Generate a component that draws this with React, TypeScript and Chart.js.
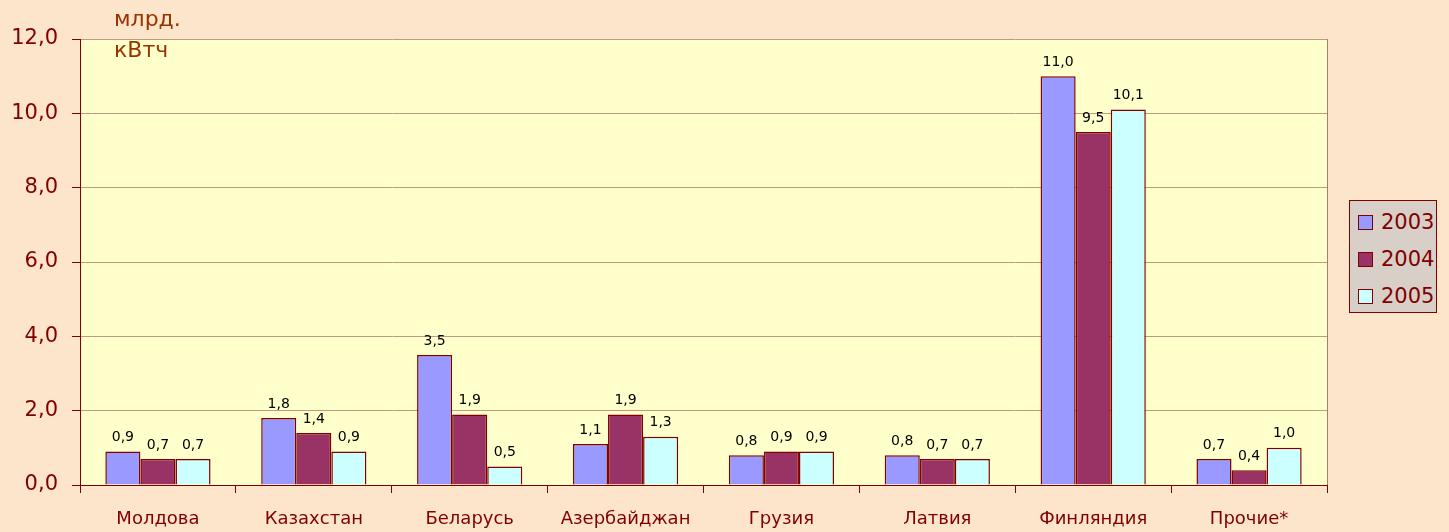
import React, { useEffect, useRef } from "react";
import { Chart, registerables } from "chart.js";

Chart.register(...registerables);

const categories = ["Молдова", "Казахстан", "Беларусь", "Азербайджан", "Грузия", "Латвия", "Финляндия", "Прочие*"];
const values2003 = [0.9, 1.8, 3.5, 1.1, 0.8, 0.8, 11.0, 0.7];
const values2004 = [0.7, 1.4, 1.9, 1.9, 0.9, 0.7, 9.5, 0.4];
const values2005 = [0.7, 0.9, 0.5, 1.3, 0.9, 0.7, 10.1, 1.0];
const seriesLabels = ["2003", "2004", "2005"];
const seriesColors = ["#9999FF", "#993366", "#CCFFFF"];
const unitLines = ["млрд.", "кВтч"];

const FONT = "'DejaVu Sans', Verdana, sans-serif";
const fmt = (v: number) => v.toFixed(1).replace(".", ",");

const plotBg = {
  id: "plotBg",
  beforeDraw(chart: any) {
    const { ctx, chartArea } = chart;
    ctx.save();
    ctx.fillStyle = "#FFFFCC";
    ctx.fillRect(chartArea.left, chartArea.top, chartArea.right - chartArea.left, chartArea.bottom - chartArea.top);
    ctx.restore();
  },
  afterDraw(chart: any) {
    const { ctx, chartArea } = chart;
    ctx.save();
    ctx.strokeStyle = "#A08070";
    ctx.lineWidth = 1;
    ctx.beginPath();
    ctx.moveTo(chartArea.right + 0.5, chartArea.top);
    ctx.lineTo(chartArea.right + 0.5, chartArea.bottom);
    ctx.stroke();
    ctx.restore();
  },
};

const valueLabels = {
  id: "valueLabels",
  afterDatasetsDraw(chart: any) {
    const { ctx } = chart;
    ctx.save();
    ctx.font = `14px ${FONT}`;
    ctx.fillStyle = "#000000";
    ctx.textAlign = "center";
    ctx.textBaseline = "bottom";
    chart.data.datasets.forEach((ds: any, i: number) => {
      const meta = chart.getDatasetMeta(i);
      meta.data.forEach((el: any, j: number) => {
        ctx.fillText(fmt(ds.data[j]), el.x, el.y - 7);
      });
    });
    ctx.restore();
  },
};

export default function App() {
  const ref = useRef<HTMLCanvasElement>(null);

  useEffect(() => {
    document.body.style.margin = "0";
    const datasets = [values2003, values2004, values2005].map((d, i) => ({
      label: seriesLabels[i],
      data: d,
      backgroundColor: seriesColors[i],
      borderColor: "#800000",
      borderWidth: 1.5,
      categoryPercentage: 0.675,
      barPercentage: 1,
    }));
    const chart = new Chart(ref.current!, {
      type: "bar",
      data: { labels: categories, datasets },
      options: {
        animation: false,
        responsive: false,
        maintainAspectRatio: false,
        layout: { padding: { left: 0, right: 122, top: 39, bottom: 0 } },
        plugins: { legend: { display: false }, tooltip: { enabled: false } },
        scales: {
          x: {
            grid: { display: true, drawOnChartArea: false, drawTicks: true, tickLength: 8, color: "#800000", offset: true },
            border: { color: "#800000", width: 1 },
            ticks: { color: "#800000", font: { family: FONT, size: 18 }, padding: 16 },
            afterFit(scale: any) { scale.height = 47; },
          },
          y: {
            min: 0,
            max: 12,
            ticks: { stepSize: 2, color: "#800000", font: { family: FONT, size: 21 }, padding: 14, callback: (v: any) => fmt(Number(v)) },
            grid: { color: "#C09A80", tickLength: 8, tickColor: "#800000" },
            border: { color: "#800000", width: 1 },
            afterFit(scale: any) { scale.width = 80; },
          },
        },
      },
      plugins: [plotBg, valueLabels],
    });
    return () => chart.destroy();
  }, []);

  return (
    <div style={{ position: "relative", width: 1449, height: 532, background: "#FCE5CB", overflow: "hidden" }}>
      <canvas ref={ref} width={1449} height={532} style={{ position: "absolute", left: 0, top: 0 }} />
      <div style={{ position: "absolute", left: 114, top: 3, color: "#993300", font: `22px ${FONT}`, lineHeight: "31px" }}>
        {unitLines.map((l) => (<div key={l}>{l}</div>))}
      </div>
      <div style={{ position: "absolute", left: 1349, top: 200, width: 86, height: 111, background: "#D8D0C8", border: "1px solid #800000", boxSizing: "content-box" }}>
        {seriesLabels.map((l, i) => (
          <div key={l} style={{ position: "absolute", left: 8, top: 8 + i * 37, display: "flex", alignItems: "center", height: 26 }}>
            <span style={{ width: 13, height: 13, background: seriesColors[i], border: "1.5px solid #800000", display: "inline-block", marginRight: 8 }} />
            <span style={{ color: "#800000", font: `21px ${FONT}` }}>{l}</span>
          </div>
        ))}
      </div>
    </div>
  );
}
